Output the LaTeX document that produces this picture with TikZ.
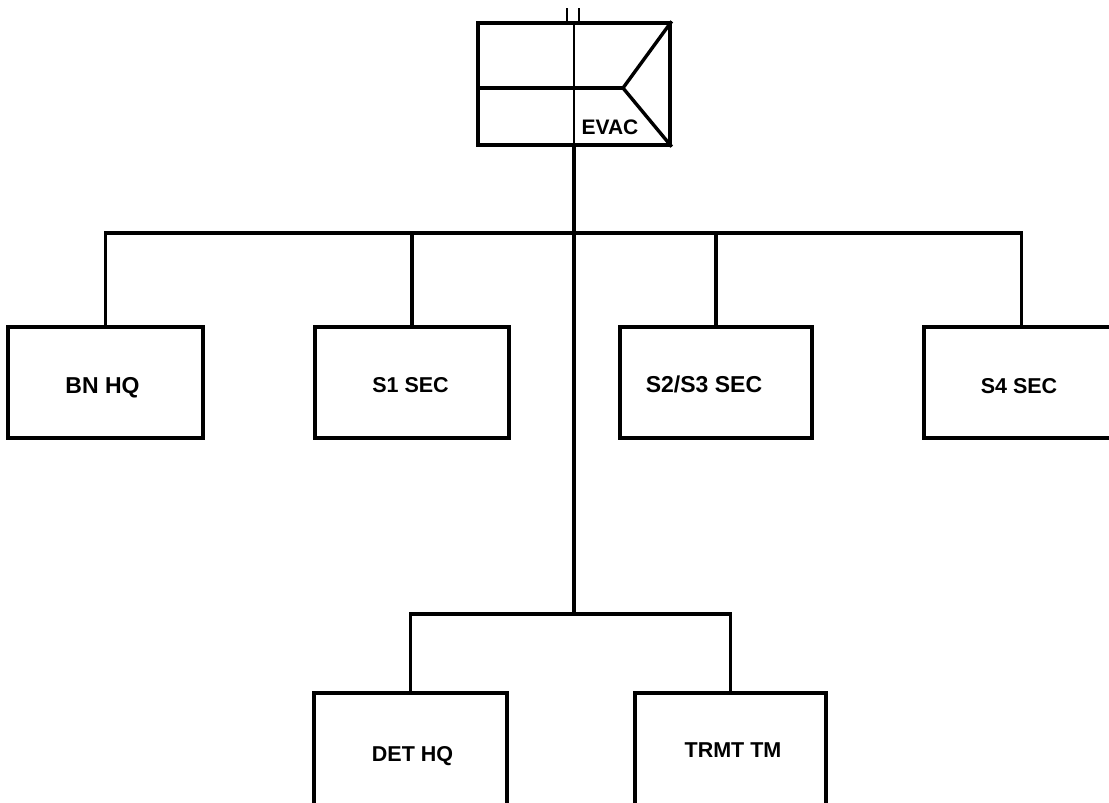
\documentclass[tikz,border=0pt]{standalone}
\usepackage{fontspec}
\setmainfont{Liberation Sans}
\newcommand{\shifttext}[3]{\hspace*{#1}\raisebox{#2}[0pt][0pt]{#3}}
\begin{document}
\begin{tikzpicture}[x=1pt,y=-1pt,
  line width=3.4pt,
  box/.style={draw, rectangle, inner sep=0pt, minimum height=111pt, font=\bfseries\fontsize{21.5}{24}\selectfont},
  bigger/.style={font=\bfseries\fontsize{23}{26}\selectfont},
  lbl/.style={inner sep=0pt, font=\bfseries\fontsize{21}{24}\selectfont},
  link/.style={draw, line width=3.4pt}]
\useasboundingbox (0,0) rectangle (1109,803);
\clip (0,0) rectangle (1109,803);
% EVAC symbol
\node[draw, rectangle, inner sep=0pt, minimum width=192pt, minimum height=122pt] (evac) at (574,84) {};
\coordinate (tip) at (623,88);
\draw (evac.north east) -- (tip) -- (evac.south east);
\draw (evac.west |- tip) -- (tip);
\node[lbl] (evaclbl) at (610,127) {EVAC};
\coordinate (topa) at (567,8);
\coordinate (topb) at (579,8);
\draw[line width=2.6pt] (topa) -- (topa |- evac.north);
\draw[line width=2.6pt] (topb) -- (topb |- evac.north);
% row 1
\node[box, bigger, minimum width=195pt] (bn) at (105.5,382.5) {\shifttext{-6pt}{-11pt}{BN HQ}};
\node[box, minimum width=194pt] (s1) at (412,382.5) {\shifttext{-3pt}{-10pt}{S1 SEC}};
\node[box, bigger, minimum width=192pt] (s23) at (716,382.5) {\shifttext{-24pt}{-10pt}{S2/S3 SEC}};
\node[box, minimum width=195pt] (s4) at (1021.5,382.5) {\shifttext{-5pt}{-11pt}{S4 SEC}};
% row 2
\node[box, minimum width=193pt, minimum height=130pt] (det) at (410.5,758) {\shifttext{4pt}{-3pt}{DET HQ}};
\node[box, minimum width=191pt, minimum height=130pt] (trmt) at (730.5,758) {\shifttext{5pt}{1pt}{TRMT TM}};
% bus
\coordinate (bus) at (574,233);
\coordinate (j2) at (574,614);
\draw[link] (bn.north) |- (s4.north |- bus) -- (s4.north);
\draw[link] (s1.north) -- (s1.north |- bus);
\draw[link] (s23.north) -- (s23.north |- bus);
\draw[line width=2.6pt] (evac.north -| j2) -- (evac.south -| j2);
\draw[link] (evac.south -| j2) -- (j2);
\draw[link] (det.north) |- (j2) -| (trmt.north);
\end{tikzpicture}
\end{document}
